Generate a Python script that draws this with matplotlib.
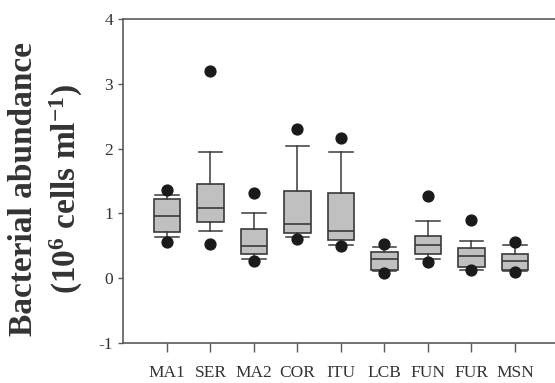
import matplotlib
matplotlib.use("Agg")
import matplotlib.pyplot as plt

sites = ["MA1", "SER", "MA2", "COR", "ITU", "LCB", "FUN", "FUR", "MSN"]
whislo = [0.63, 0.73, 0.29, 0.64, 0.52, 0.11, 0.30, 0.13, 0.11]
q1     = [0.72, 0.86, 0.37, 0.69, 0.59, 0.13, 0.38, 0.18, 0.13]
med    = [0.96, 1.08, 0.49, 0.84, 0.73, 0.30, 0.52, 0.34, 0.26]
q3     = [1.22, 1.45, 0.76, 1.34, 1.32, 0.40, 0.65, 0.46, 0.38]
whishi = [1.28, 1.95, 1.00, 2.04, 1.95, 0.48, 0.89, 0.57, 0.52]
out_hi = [1.36, 3.19, 1.32, 2.31, 2.16, 0.53, 1.27, 0.90, 0.56]
out_lo = [0.56, 0.53, 0.27, 0.60, 0.49, 0.08, 0.25, 0.12, 0.09]
yticks = [-1, 0, 1, 2, 3, 4]

plt.rcParams['font.family'] = ['Liberation Serif', 'DejaVu Serif']
plt.rcParams['mathtext.fontset'] = 'custom'
plt.rcParams['mathtext.rm'] = 'Liberation Serif:bold'
plt.rcParams['mathtext.bf'] = 'Liberation Serif:bold'
plt.rcParams['mathtext.it'] = 'Liberation Serif:bold'

fig = plt.figure(figsize=(5.55, 3.83), dpi=100)
ax = fig.add_axes([0.2225, 0.1044, 0.7838, 0.846])

stats = []
for i, s in enumerate(sites):
    stats.append(dict(label=s, whislo=whislo[i], q1=q1[i], med=med[i],
                      q3=q3[i], whishi=whishi[i],
                      fliers=[out_lo[i], out_hi[i]]))

edge = '#3a3a3a'
ax.bxp(stats, positions=range(1, len(sites) + 1), widths=0.6,
       patch_artist=True, showfliers=True,
       boxprops=dict(facecolor='#c0c0c0', edgecolor=edge, linewidth=1.2),
       medianprops=dict(color=edge, linewidth=1.2),
       whiskerprops=dict(color=edge, linewidth=1.1),
       capprops=dict(color=edge, linewidth=1.1),
       capwidths=0.54,
       flierprops=dict(marker='o', markerfacecolor='#1a1a1a',
                       markeredgecolor='#1a1a1a', markersize=7.8))

ax.set_xlim(0, 10)
ax.set_ylim(-1, 4)
ax.set_yticks(yticks)
ax.set_yticklabels([str(v) for v in yticks])
ax.set_xticks(range(1, len(sites) + 1))
ax.set_xticklabels(sites)

for sp in ax.spines.values():
    sp.set_color('#5a5a5a')
    sp.set_linewidth(1.2)

ax.tick_params(axis='y', direction='out', length=3.5, width=1.0,
               color='#5a5a5a', labelsize=12.5, labelcolor='#333333', pad=4)
ax.tick_params(axis='x', direction='out', length=6.5, width=1.0,
               color='#5a5a5a', labelsize=12.5, labelcolor='#333333', pad=9)

fig.text(24 / 555, 1 - 189 / 383, "Bacterial abundance", rotation=90,
         ha='center', va='center', fontsize=24, fontweight='bold',
         color='#333333')
fig.text(66 / 555, 1 - 189 / 383, r"(10$^{6}$ cells ml$^{\mathrm{-1}}$)",
         rotation=90, ha='center', va='center', fontsize=24,
         fontweight='bold', color='#333333')

fig.savefig("out.png", dpi=100)
